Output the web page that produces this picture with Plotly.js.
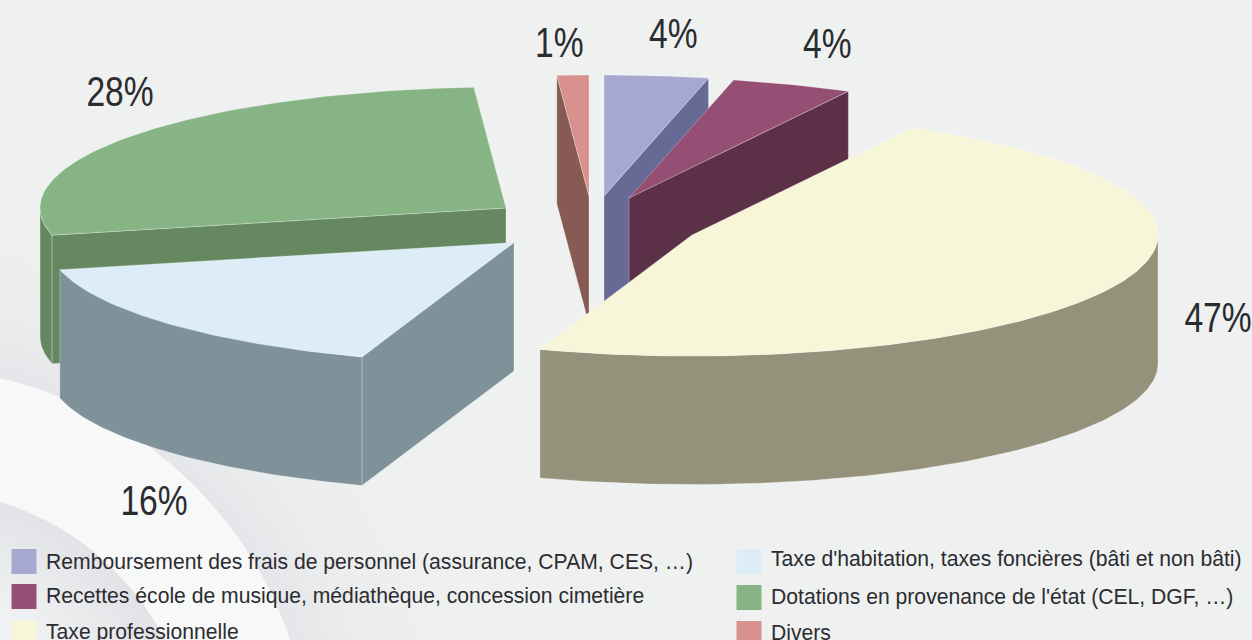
<!DOCTYPE html>
<html><head><meta charset="utf-8">
<script src="https://cdn.plot.ly/plotly-3.0.1.min.js"></script>
<style>html,body{margin:0;padding:0;background:#eff1f1;overflow:hidden}</style>
</head><body><div id="chart" style="width:1252px;height:640px"></div>
<script>
// Data, clockwise from the top
const categories = [
  "Remboursement des frais de personnel (assurance, CPAM, CES, …)",
  "Recettes école de musique, médiathèque, concession cimetière",
  "Taxe professionnelle",
  "Taxe d'habitation, taxes foncières (bâti et non bâti)",
  "Dotations en provenance de l'état (CEL, DGF, …)",
  "Divers"
];
const values = [3.6, 4.2, 47.49, 16.11, 27.5, 1.1];

// Styles
const topColors  = ["#a6a8d0", "#964f74", "#f7f6d9", "#dcedf7", "#87b485", "#d9918e"];
const wallColors = ["#666a94", "#5c3046", "#94927a", "#7f9299", "#658860", "#875b54"];
const edgeColor = "rgba(255,255,255,0.35)";
const textColor = "#2b2c30";

// Pie geometry (pixel-scaled axes): explosion apex per slice, ellipse radii, height
const apexX = [604, 629, 692, 514, 506, 589];
const apexY = [196, 198, 235, 242.5, 208, 196];
const radiusX = 466, radiusY = 121, depth = 128.5;
const drawOrder = [5, 0, 1, 4, 3, 2];

// Label placement
const labelX = [673, 827, 1218, 154, 120, 559];
const labelY = [33, 43, 317, 500, 91, 42];
const labelNarrow = 0.8;
const legendX = [24, 24, 24, 749, 749, 749];
const legendY = [561.5, 596.5, 633, 561.5, 597.5, 633.5];
const legendTextX = [44, 44, 44, 769, 769, 769];
const legendTextY = [562, 596, 632, 559, 597, 632];

const rad = d => d * Math.PI / 180;
const total = values.reduce((a, b) => a + b, 0);
let cum = 0;
const slices = values.map((v, i) => {
  const start = 90 - cum / total * 360;
  cum += v;
  return {i, start, end: 90 - cum / total * 360};
});

function poly(xs, ys, color, line) {
  return {type: "scatter", mode: "lines", x: xs, y: ys, fill: "toself", fillcolor: color,
          line: {color: line || edgeColor, width: line === "none" ? 0 : 0.8}, hoverinfo: "skip", showlegend: false};
}
function px(s, t) { return apexX[s.i] + radiusX * Math.cos(rad(t)); }
function py(s, t) { return apexY[s.i] - radiusY * Math.sin(rad(t)); }
function arcAngles(a, b) {
  const n = Math.max(2, Math.ceil(Math.abs(a - b) / 1));
  return Array.from({length: n + 1}, (_, k) => a + (b - a) * k / n);
}
function radialWall(s, t) {
  const ox = px(s, t), oy = py(s, t), ax = apexX[s.i], ay = apexY[s.i];
  return poly([ax, ox, ox, ax, ax], [ay, oy, oy + depth, ay + depth, ay], wallColors[s.i]);
}
function outerWall(s) {
  const angs = arcAngles(s.start, s.end).filter(t => Math.sin(rad(t)) <= 0);
  if (angs.length < 2) return null;
  const xs = angs.map(t => px(s, t)), ys = angs.map(t => py(s, t));
  return poly(xs.concat(xs.slice().reverse(), xs[0]),
              ys.concat(ys.map(y => y + depth).reverse(), ys[0]), wallColors[s.i]);
}
function topFace(s) {
  const angs = arcAngles(s.start, s.end);
  const xs = [apexX[s.i]].concat(angs.map(t => px(s, t)), apexX[s.i]);
  const ys = [apexY[s.i]].concat(angs.map(t => py(s, t)), apexY[s.i]);
  return poly(xs, ys, topColors[s.i]);
}
function circle(cx, cy, r) {
  const a = Array.from({length: 241}, (_, k) => k * 1.5);
  return [a.map(t => cx + r * Math.cos(rad(t))), a.map(t => cy + r * Math.sin(rad(t)))];
}
function gradCircle(cx, cy, r, scale) {
  const [x, y] = circle(cx, cy, r);
  return {type: "scatter", mode: "none", x, y, fill: "toself",
          fillgradient: {type: "radial", colorscale: scale}, hoverinfo: "skip", showlegend: false};
}

const traces = [];
// Background swoosh
traces.push(gradCircle(-90, 770, 640, [[0, "#e5e6e9"], [0.63, "#e5e6e9"], [0.72, "#ebeced"], [0.85, "#eeefef"], [1, "#eff1f1"]]));
{ const [x, y] = circle(-90, 770, 402); traces.push(poly(x, y, "#f7f9f8", "none")); }
traces.push(gradCircle(-80, 765, 275, [[0, "#f7f8f8"], [0.6, "#f1f2f3"], [1, "#e2e3e6"]]));

// Slices
drawOrder.forEach(i => {
  const s = slices[i];
  if (Math.cos(rad(s.start)) < -1e-6) traces.push(radialWall(s, s.start));
  if (Math.cos(rad(s.end)) > 1e-6) traces.push(radialWall(s, s.end));
  const w = outerWall(s);
  if (w) traces.push(w);
  traces.push(topFace(s));
});

// Legend swatches
traces.push({type: "scatter", mode: "markers", x: legendX, y: legendY, text: categories,
  marker: {symbol: "square", size: 25, color: topColors, line: {width: 0}}, hoverinfo: "text", showlegend: false});

const annotations = [];
values.forEach((v, i) => annotations.push({
  x: labelX[i], y: labelY[i], xref: "x", yref: "y", text: Math.round(v) + "%", showarrow: false,
  xanchor: "center", yanchor: "middle", font: {family: "'Liberation Sans',Arial,sans-serif", size: 42, color: textColor}
}));
categories.forEach((c, i) => annotations.push({
  x: legendTextX[i], y: legendTextY[i], xref: "x", yref: "y", text: c, showarrow: false,
  xanchor: "left", yanchor: "middle", font: {family: "'Liberation Sans',Arial,sans-serif", size: 21.15, color: textColor}
}));

const layout = {
  width: 1252, height: 640, margin: {l: 0, r: 0, t: 0, b: 0},
  paper_bgcolor: "#eff1f1", plot_bgcolor: "#eff1f1", showlegend: false,
  xaxis: {range: [0, 1252], visible: false, fixedrange: true},
  yaxis: {range: [640, 0], visible: false, fixedrange: true},
  annotations
};
Plotly.newPlot("chart", traces, layout, {displayModeBar: false, staticPlot: true}).then(() => {
  // The percentage labels are set in a condensed cut: narrow the real text glyphs
  document.querySelectorAll("#chart .annotation-text").forEach(t => {
    if (/^\d+%$/.test(t.textContent)) {
      t.setAttribute("textLength", (t.getComputedTextLength() * labelNarrow).toFixed(1));
      t.setAttribute("lengthAdjust", "spacingAndGlyphs");
    }
  });
});
</script></body></html>
